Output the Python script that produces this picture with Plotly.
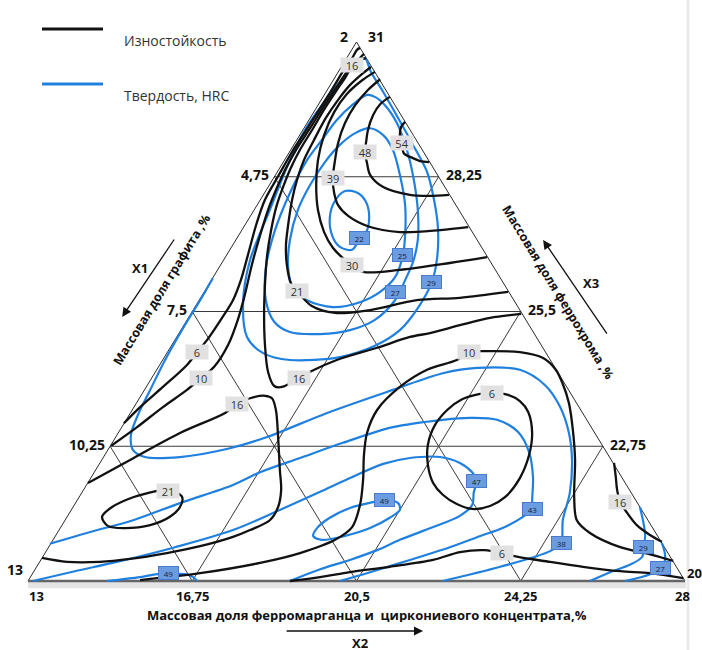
import plotly.graph_objects as go

# ---------------- axis tick values ----------------
left_ticks = [2, 4.75, 7.5, 10.25, 13]          # X1  graphite (apex -> bottom-left)
right_ticks = [31, 28.25, 25.5, 22.75, 20]      # X3  ferrochrome (apex -> bottom-right)
bottom_ticks = [13, 16.75, 20.5, 24.25, 28]     # X2  ferromanganese + zirconium concentrate

# ---------------- contour lines (x = X2 scale, y = X1 scale) ----------------
# wear resistance (black)
wear_6_left = [(15.19,9.78),(15.56,9.45),(16.08,9.04),(16.63,8.59),(16.86,8.33),(17.09,8.08),(17.43,7.63),(17.68,7.27),(17.86,6.86),(18.02,6.35),(18.21,5.73),(18.41,5.22),(18.73,4.71),(19.03,4.24),(19.35,3.80),(19.67,3.35),(19.96,2.94),(20.21,2.57),(20.40,2.33),(20.51,2.16),(20.58,2.12)]
wear_10_left = [(14.90,10.24),(15.49,9.86),(16.08,9.45),(16.63,9.10),(16.95,8.86),(17.25,8.63),(17.57,8.18),(17.79,7.67),(17.95,7.16),(18.11,6.55),(18.30,5.94),(18.48,5.43),(18.71,4.92),(18.87,4.61),(19.12,4.20),(19.44,3.76),(19.74,3.33),(20.03,2.94),(20.28,2.61),(20.49,2.41),(20.67,2.24)]
wear_16_mid = [(24.26,7.55),(23.55,7.63),(22.86,7.78),(22.18,7.94),(21.72,8.02),(20.97,8.24),(20.05,8.49),(19.44,8.73),(19.19,8.86),(18.80,9.04),(18.62,9.02),(18.48,8.73),(18.41,8.18),(18.39,7.57),(18.41,6.96),(18.46,6.35),(18.55,5.84),(18.68,5.33),(18.84,4.92),(19.00,4.57),(19.21,4.20),(19.51,3.76),(19.78,3.35),(20.05,2.98),(20.24,2.73),(20.40,2.49),(20.58,2.37),(20.72,2.33)]
wear_21_mid = [(23.96,7.10),(22.86,7.22),(21.88,7.27),(20.81,7.47),(20.01,7.53),(19.48,7.39),(19.14,7.08),(19.00,6.92),(18.91,6.55),(18.89,6.14),(18.94,5.73),(19.03,5.22),(19.14,4.82),(19.30,4.41),(19.53,4.00),(19.80,3.55),(20.08,3.18),(20.35,2.88),(20.63,2.65),(20.83,2.51)]
wear_30 = [(23.48,6.39),(22.63,6.51),(21.49,6.65),(20.65,6.69),(20.40,6.55),(20.19,6.41),(19.96,6.20),(19.76,5.88),(19.62,5.43),(19.58,4.92),(19.62,4.41),(19.76,3.90),(19.99,3.43),(20.28,3.06),(20.63,2.78),(20.92,2.61)]
wear_39 = [(21.04,2.76),(20.76,2.98),(20.47,3.29),(20.24,3.65),(20.08,4.06),(20.01,4.41),(19.96,4.78),(19.99,5.08),(20.08,5.33),(20.31,5.55),(20.76,5.76),(21.49,5.88),(22.41,5.84),(23.05,5.78)]
wear_48 = [(21.26,3.12),(21.04,3.27),(20.88,3.49),(20.76,3.80),(20.72,4.04),(20.69,4.24),(20.74,4.47),(20.81,4.71),(21.11,4.96),(21.72,5.12),(22.18,5.14),(22.61,5.12)]
wear_54 = [(21.61,3.63),(21.52,3.73),(21.49,3.90),(21.54,4.06),(21.58,4.27),(21.79,4.37),(21.95,4.43),(22.16,4.45)]
wear_10_right = [(15.56,12.98),(16.93,12.84),(18.30,12.63),(19.21,12.43),(20.01,12.16),(20.40,11.90),(20.58,11.45),(20.65,10.94),(20.67,10.43),(20.74,9.98),(20.97,9.51),(21.49,9.04),(22.11,8.69),(22.79,8.49),(23.07,8.33),(23.43,8.31),(24.23,8.33),(24.76,8.45),(25.05,8.69),(25.21,8.98),(25.35,9.37),(25.44,9.92),(25.49,10.53),(25.47,11.29),(25.53,11.76),(25.83,12.02),(26.52,12.31),(27.27,12.47),(27.73,12.59)]
wear_6_ring = [(23.32,9.18),(22.91,9.29),(22.57,9.51),(22.29,9.82),(22.13,10.22),(22.13,10.63),(22.25,11.00),(22.47,11.24),(22.79,11.43),(23.14,11.53),(23.55,11.47),(23.89,11.29),(24.23,10.90),(24.44,10.43),(24.51,9.98),(24.42,9.55),(24.23,9.33),(23.96,9.20),(23.59,9.16),(23.32,9.18)]
wear_6_bottom = [(18.98,13.00),(19.67,12.92),(20.35,12.82),(21.26,12.71),(22.25,12.57),(22.86,12.41),(23.43,12.37),(23.82,12.43),(24.19,12.51),(24.92,12.61),(25.67,12.71),(26.52,12.80),(27.20,12.84),(27.96,12.94)]
wear_16_hook = [(14.37,11.00),(15.33,10.53),(16.47,9.98),(17.50,9.57),(17.77,9.39),(18.07,9.27),(18.41,9.22),(18.57,9.27),(18.66,9.51),(18.71,10.06),(18.75,10.73),(18.78,11.14),(18.71,11.49),(18.52,11.76),(18.07,11.96),(17.68,12.10),(16.93,12.29),(16.17,12.43),(15.33,12.55),(14.64,12.61),(13.89,12.61),(13.32,12.53)]
wear_21_loop = [(15.95,11.16),(15.40,11.29),(14.92,11.49),(14.69,11.69),(14.83,11.88),(15.21,11.92),(15.79,11.86),(16.24,11.69),(16.47,11.49),(16.52,11.29),(16.20,11.12),(15.95,11.16)]
wear_16_corner = [(26.38,10.59),(26.42,10.88),(26.45,11.14),(26.52,11.39),(26.68,11.61),(26.90,11.86),(27.20,12.06),(27.47,12.20)]

# hardness HRC (blue)
hard_38 = [(17.22,6.82),(16.93,7.27),(16.58,7.78),(16.13,8.49),(15.79,9.10),(15.51,9.61),(15.35,10.02),(15.40,10.33),(15.67,10.47),(16.47,10.47),(17.61,10.29),(18.46,10.06),(19.83,9.57),(21.33,9.10),(22.47,8.76),(23.25,8.65),(24.23,8.69),(24.80,9.00),(25.15,9.45),(25.35,9.98),(25.42,10.53),(25.37,11.20),(25.21,11.76),(25.17,12.22),(24.92,12.39),(23.78,12.71),(22.47,13.00)]
hard_29_loop = [(20.69,2.33),(20.47,2.47),(20.12,2.82),(19.71,3.29),(19.32,3.80),(18.98,4.41),(18.52,5.43),(18.07,6.45),(17.91,7.33),(18.00,8.02),(18.37,8.35),(18.98,8.49),(20.12,8.43),(20.92,8.20),(21.49,7.88),(21.90,7.43),(22.22,6.90),(22.34,6.41),(22.36,5.80),(22.27,5.22),(22.11,4.65),(21.79,4.10),(21.45,3.55),(21.11,3.02),(20.83,2.61),(20.69,2.33)]
hard_27_loop = [(20.74,3.08),(20.40,3.29),(20.05,3.59),(19.71,4.00),(19.37,4.41),(18.98,5.08),(18.64,5.84),(18.43,6.61),(18.43,7.27),(18.62,7.71),(18.98,7.92),(19.67,7.96),(20.35,7.88),(20.92,7.67),(21.38,7.27),(21.61,6.86),(21.79,6.49),(21.90,6.04),(21.90,5.43),(21.81,4.82),(21.65,4.20),(21.42,3.65),(21.15,3.29),(20.92,3.12),(20.74,3.08)]
hard_25_loop = [(20.81,3.76),(20.47,3.86),(20.12,4.10),(19.78,4.45),(19.44,4.92),(19.16,5.43),(18.98,6.04),(18.94,6.61),(19.05,7.02),(19.37,7.27),(19.96,7.41),(20.58,7.31),(21.04,7.10),(21.38,6.80),(21.56,6.35),(21.61,5.94),(21.61,5.33),(21.49,4.71),(21.33,4.20),(21.11,3.90),(20.81,3.76)]
hard_22_loop = [(20.24,5.04),(20.53,5.08),(20.72,5.27),(20.79,5.59),(20.72,5.88),(20.56,6.04),(20.40,6.24),(20.12,6.18),(19.94,5.94),(19.89,5.59),(19.99,5.27),(20.24,5.04)]
hard_43 = [(13.50,12.24),(14.42,12.00),(15.40,11.76),(16.47,11.41),(17.68,11.04),(18.30,10.78),(19.21,10.49),(20.19,10.18),(21.33,9.86),(22.47,9.71),(23.09,9.67),(23.71,9.71),(24.19,9.96),(24.44,10.37),(24.53,10.88),(24.51,11.35),(24.51,11.53),(24.30,11.69),(23.78,11.94),(23.39,12.06),(22.63,12.31),(21.72,12.57),(20.81,12.82),(20.12,13.00)]
hard_47 = [(13.11,13.00),(14.07,12.80),(15.03,12.61),(16.36,12.31),(17.68,11.96),(18.75,11.55),(19.67,11.18),(20.35,10.90),(21.11,10.61),(21.72,10.49),(22.41,10.47),(22.86,10.59),(23.14,10.78),(23.25,10.96),(23.18,11.18),(23.14,11.45),(22.86,11.67),(22.25,11.90),(21.49,12.16),(20.97,12.37),(20.35,12.57),(19.67,12.76),(18.98,13.00)]
hard_49_loop = [(20.88,11.39),(20.35,11.51),(19.89,11.71),(19.60,11.92),(19.51,12.08),(19.71,12.16),(20.24,12.08),(20.81,11.92),(21.26,11.71),(21.49,11.55),(21.45,11.41),(21.15,11.35),(20.88,11.39)]
hard_49_base = [(14.80,13.00),(15.56,12.92),(15.95,12.86),(16.20,12.86),(16.58,12.86),(16.77,12.92),(16.86,13.00)]
hard_29_corner = [(26.97,11.49),(27.04,11.76),(27.09,12.06),(27.06,12.31),(27.02,12.51),(26.74,12.67),(26.29,12.82),(25.83,13.00)]
hard_27_corner = [(27.47,12.22),(27.54,12.43),(27.54,12.59),(27.43,12.73),(27.20,12.86),(26.63,13.00)]

# contour level labels: (value, X2, X1)
wear_labels = [(16,20.40,2.47),(39,19.96,4.78),(48,20.69,4.24),(54,21.54,4.06),(30,20.40,6.55),
               (21,19.14,7.08),(6,16.86,8.33),(10,16.95,8.86),(16,19.19,8.86),(16,17.77,9.39),
               (21,16.20,11.16),(10,23.07,8.33),(6,23.59,9.16),(6,23.82,12.43),(16,26.52,11.39)]
hard_labels = [(22,20.56,6.00),(25,21.56,6.35),(27,21.38,7.10),(29,22.22,6.90),(49,21.15,11.35),
               (47,23.25,10.96),(43,24.51,11.53),(38,25.17,12.22),(29,27.06,12.31),(27,27.43,12.73),
               (49,16.20,12.84)]

wear_curves = [wear_6_left, wear_10_left, wear_16_mid, wear_21_mid, wear_30, wear_39, wear_48, wear_54,
               wear_10_right, wear_6_ring, wear_6_bottom, wear_16_hook, wear_21_loop, wear_16_corner]
hard_curves = [hard_38, hard_29_loop, hard_27_loop, hard_25_loop, hard_22_loop, hard_43, hard_47,
               hard_49_loop, hard_49_base, hard_29_corner, hard_27_corner]

BLACK = "#111111"
BLUE = "#1f80e0"
FONT = "Open Sans"

# ---------------- geometry of the triangle ----------------
X2_MIN, X2_MAX = bottom_ticks[0], bottom_ticks[-1]
Y_TOP, Y_BOT = left_ticks[0], left_ticks[-1]
APEX_X = (X2_MIN + X2_MAX) / 2
K = (APEX_X - X2_MIN) / (Y_BOT - Y_TOP)


def left_x(y):
    return X2_MIN + (Y_BOT - y) * K


def right_x(y):
    return X2_MAX - (Y_BOT - y) * K


def fmt(v):
    s = ("%g" % v)
    return s.replace(".", ",")


fig = go.Figure()

# grid lines
gx, gy = [], []
for y in left_ticks[1:-1]:
    gx += [left_x(y), right_x(y), None]
    gy += [y, y, None]
for y in left_ticks[1:-1]:
    gx += [left_x(y), left_x(y) + (Y_BOT - y) * K, None]
    gy += [y, Y_BOT, None]
    gx += [right_x(y), right_x(y) - (Y_BOT - y) * K, None]
    gy += [y, Y_BOT, None]
fig.add_trace(go.Scatter(x=gx, y=gy, mode="lines", line=dict(color="#3a3a3a", width=1),
                         hoverinfo="skip"))
# triangle outline
fig.add_trace(go.Scatter(x=[X2_MIN, APEX_X, X2_MAX], y=[Y_BOT, Y_TOP, Y_BOT], mode="lines",
                         line=dict(color="#2a2a2a", width=1), hoverinfo="skip"))
fig.add_trace(go.Scatter(x=[X2_MIN, X2_MAX], y=[Y_BOT, Y_BOT], mode="lines",
                         line=dict(color="#666666", width=2.5), hoverinfo="skip"))

for c in hard_curves:
    fig.add_trace(go.Scatter(x=[p[0] for p in c], y=[p[1] for p in c], mode="lines",
                             line=dict(color=BLUE, width=2.2, shape="spline", smoothing=0.9),
                             hoverinfo="skip"))
for c in wear_curves:
    fig.add_trace(go.Scatter(x=[p[0] for p in c], y=[p[1] for p in c], mode="lines",
                             line=dict(color=BLACK, width=2.3, shape="spline", smoothing=0.9),
                             hoverinfo="skip"))

ann = []
for v, x, y in wear_labels:
    ann.append(dict(x=x, y=y, text=str(v), showarrow=False, bgcolor="#e1e1e1", width=22, height=14,
                    borderpad=0, font=dict(family=FONT, size=11, color="#333333")))
for v, x, y in hard_labels:
    ann.append(dict(x=x, y=y, text=str(v), showarrow=False, bgcolor="#6b9be0", bordercolor="#4a7acb",
                    borderwidth=1, width=19, height=12, borderpad=0,
                    font=dict(family=FONT, size=8, color="#1b1b3a")))

tick_font = dict(family=FONT, size=14, color="#111111", weight="bold")
# left side ticks
for i, v in enumerate(left_ticks):
    y = v
    xs, ys = -3, 2
    if i == 0:
        xs, ys = -7, 6
    if i == len(left_ticks) - 1:
        xs, ys = -3, 12
    ann.append(dict(x=left_x(y), y=y, text=fmt(v), showarrow=False, xanchor="right",
                    xshift=xs, yshift=ys, font=tick_font))
# right side ticks (same levels as left)
for i, v in enumerate(right_ticks):
    y = left_ticks[i]
    xs, ys = 5, 2
    fsize = 14
    if i == 0:
        xs, ys = 9, 6
    if i == len(right_ticks) - 1:
        xs, ys, fsize = 0, 8, 13
    ann.append(dict(x=right_x(y), y=y, text=fmt(v), showarrow=False, xanchor="left",
                    xshift=xs, yshift=ys, font=dict(tick_font, size=fsize)))
# bottom ticks
for i, v in enumerate(bottom_ticks):
    xs = 0
    if i == 0:
        xs = 8
    if i == len(bottom_ticks) - 1:
        xs = -3
    ann.append(dict(x=v, y=Y_BOT, text=fmt(v), showarrow=False, yshift=-14, xshift=xs, height=15,
                    font=dict(family=FONT, size=13, color="#111111", weight="bold")))

title_font = dict(family=FONT, size=13, color="#111111", weight="bold")
ann.append(dict(x=20.74, y=13.69, text="Массовая доля ферромарганца и  циркониевого концентрата,%",
                showarrow=False, height=15, font=title_font))
ann.append(dict(x=20.58, y=14.25, text="X2", showarrow=False, height=15, font=title_font))
ann.append(dict(x=22.02, y=14.02, ax=18.87, ay=14.02, axref="x", ayref="y", text="", showarrow=True,
                arrowhead=2, arrowsize=1.4, arrowwidth=1.3, arrowcolor="#111111"))

ann.append(dict(x=16.06, y=7.06, text="Массовая доля графита ,%", showarrow=False, textangle=-58.6,
                font=dict(family=FONT, size=12.5, color="#111111", weight="bold")))
ann.append(dict(x=15.56, y=6.61, text="X1", showarrow=False, font=title_font))
ann.append(dict(x=15.15, y=7.61, ax=16.36, ay=6.00, axref="x", ayref="y", text="", showarrow=True,
                arrowhead=2, arrowsize=1.4, arrowwidth=1.3, arrowcolor="#111111"))

ann.append(dict(x=25.10, y=7.12, text="Массовая доля феррохрома ,%", showarrow=False, textangle=58.6,
                font=dict(family=FONT, size=12.5, color="#111111", weight="bold")))
ann.append(dict(x=25.85, y=6.92, text="X3", showarrow=False, font=title_font))
ann.append(dict(x=24.76, y=6.04, ax=26.24, ay=7.98, axref="x", ayref="y", text="", showarrow=True,
                arrowhead=2, arrowsize=1.4, arrowwidth=1.3, arrowcolor="#111111"))

# legend
legend_items = [("Изностойкость", BLACK), ("Твердость, HRC", BLUE)]
shapes = []
for i, (name, col) in enumerate(legend_items):
    yy = 1 - (29 + 55 * i) / 650
    shapes.append(dict(type="line", xref="paper", yref="paper", x0=42 / 702, x1=103 / 702,
                       y0=yy, y1=yy, line=dict(color=col, width=3)))
    ann.append(dict(xref="paper", yref="paper", x=122 / 702, y=yy, text=name, showarrow=False,
                    xanchor="left", font=dict(family=FONT, size=14, color="#333333")))

# light base band and right border
shapes.append(dict(type="rect", xref="x", yref="y", x0=X2_MIN, x1=X2_MAX + 0.02, y0=Y_BOT + 0.02,
                   y1=Y_BOT + 0.15, fillcolor="#e4e4e4", line=dict(width=0), layer="below"))
shapes.append(dict(type="line", xref="paper", yref="paper", x0=688 / 702, x1=688 / 702, y0=0, y1=1,
                   line=dict(color="#ebebeb", width=3)))

fig.update_layout(
    width=702, height=650, margin=dict(l=0, r=0, t=0, b=0, pad=0),
    paper_bgcolor="white", plot_bgcolor="white", showlegend=False,
    xaxis=dict(range=[12.36073, 28.38813], visible=False, fixedrange=True),
    yaxis=dict(range=[14.408163, 1.142857], visible=False, fixedrange=True),
    annotations=ann, shapes=shapes,
)

fig.write_html("out.html", config={"displayModeBar": False},
               post_script="document.body.style.margin='0';document.body.style.overflow='hidden';")
